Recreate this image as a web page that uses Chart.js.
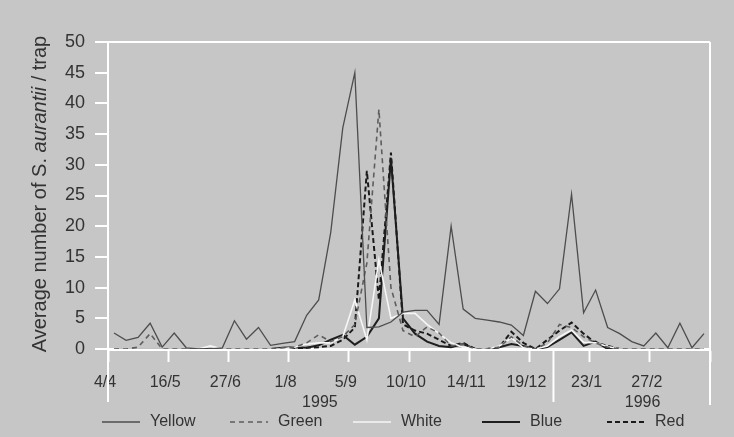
<!DOCTYPE html>
<html lang="en">
<head>
<meta charset="UTF-8">
<title>S. aurantii trap catches 1995-1996</title>
<style>
  html, body { margin: 0; padding: 0; background: #c6c6c6; }
  #wrap { width: 734px; height: 437px; }
</style>
<script src="https://cdn.jsdelivr.net/npm/chart.js"></script>
</head>
<body>
<div id="wrap"><canvas id="trapChart" width="734" height="437"></canvas></div>
<script>
// tick labels, one every 5 samples
const dateLabels = ['4/4', '16/5', '27/6', '1/8', '5/9', '10/10', '14/11', '19/12', '23/1', '27/2'];
const yTicks = [0, 5, 10, 15, 20, 25, 30, 35, 40, 45, 50];

// average catch per trap, one value per sampling date (50 dates)
const yellow = [2.6, 1.4, 1.9, 4.2, 0.3, 2.6, 0.2, 0, 0, 0.2,
                4.6, 1.6, 3.5, 0.6, 0.9, 1.2, 5.5, 8, 19, 36,
                45, 3.5, 3.6, 4.4, 6, 6.3, 6.3, 4, 20, 6.5,
                5, 4.7, 4.4, 3.9, 2.2, 9.4, 7.4, 9.8, 25.2, 5.9,
                9.6, 3.5, 2.5, 1.2, 0.5, 2.6, 0.2, 4.2, 0.2, 2.5];
const green  = [0, 0, 0.3, 2.5, 0, 0, 0, 0, 0, 0,
                0, 0, 0, 0, 0.2, 0.3, 1, 2.3, 1.2, 2,
                4, 14, 39, 10, 3, 2, 3.6, 2.6, 0.5, 0.8,
                0, 0, 0.3, 2, 0.5, 0, 1, 4, 3.5, 2,
                1, 0.3, 0, 0, 0, 0, 0, 0, 0, 0];
const white  = [0, 0, 0, 0, 0, 0, 0, 0, 0.5, 0,
                0, 0, 0, 0, 0, 0.3, 0.8, 1, 1, 2,
                8, 1.5, 14.5, 5, 5.8, 5.8, 4, 2.5, 1, 0.3,
                0, 0, 0.5, 1.8, 0.2, 0, 0.5, 2, 3.1, 1.1,
                1, 0.4, 0, 0, 0, 0, 0, 0, 0, 0];
const blue   = [0, 0, 0, 0, 0, 0, 0, 0, 0, 0,
                0, 0, 0, 0, 0.2, 0.3, 0.2, 0.6, 1.5, 2.3,
                0.7, 2, 5, 31, 5, 2.5, 1.2, 0.5, 0.3, 0.8,
                0, 0, 0.3, 0.8, 0.5, 0, 0.3, 1.5, 2.7, 0.5,
                1.2, 0, 0, 0, 0, 0, 0, 0, 0, 0];
const red    = [0, 0, 0, 0, 0, 0, 0, 0, 0, 0,
                0, 0, 0, 0, 0, 0, 0.2, 0.3, 0.5, 1.5,
                3.5, 29, 8, 32, 4, 3, 2.5, 1.5, 0.5, 1,
                0, 0, 0.3, 2.8, 1, 0, 1.5, 3, 4.3, 2.5,
                1, 0.5, 0, 0, 0, 0, 0, 0, 0, 0];

// each sample sits in the middle of its slot on the 0..50 axis
function toPoints(values) {
  return values.map((v, i) => ({ x: i + 0.5, y: v }));
}

const textColor = '#333333';
const fontFamily = '"Liberation Sans", Arial, sans-serif';

const frameLines = {
  id: 'frameLines',
  beforeDatasetsDraw(chart) {
    const x = chart.scales.x;
    const area = chart.chartArea;
    const ctx = chart.ctx;
    ctx.save();
    ctx.strokeStyle = '#ffffff';
    ctx.lineWidth = 2;
    ctx.beginPath();
    ctx.moveTo(x.getPixelForValue(0), area.top);
    ctx.lineTo(x.getPixelForValue(0), 402);
    ctx.moveTo(x.getPixelForValue(37), area.bottom);
    ctx.lineTo(x.getPixelForValue(37), 402);
    ctx.moveTo(x.getPixelForValue(50), area.top);
    ctx.lineTo(x.getPixelForValue(50), 405);
    ctx.stroke();
    // year labels
    ctx.fillStyle = textColor;
    ctx.font = '16px ' + fontFamily;
    ctx.textAlign = 'center';
    ctx.textBaseline = 'middle';
    ctx.fillText('1995', x.getPixelForValue(17.6), 403);
    ctx.fillText('1996', x.getPixelForValue(44.4), 403);
    ctx.restore();
  }
};

const yTitle = {
  id: 'yTitle',
  afterDraw(chart) {
    const ctx = chart.ctx;
    const parts = [
      ['Average number of S. ', 'normal'],
      ['aurantii', 'italic'],
      [' / trap', 'normal']
    ];
    ctx.save();
    let total = 0;
    parts.forEach(p => {
      ctx.font = p[1] + ' 20px ' + fontFamily;
      total += ctx.measureText(p[0]).width;
    });
    ctx.translate(40, 194);
    ctx.rotate(-Math.PI / 2);
    ctx.fillStyle = textColor;
    ctx.textBaseline = 'middle';
    ctx.textAlign = 'left';
    let pos = -total / 2;
    parts.forEach(p => {
      ctx.font = p[1] + ' 20px ' + fontFamily;
      ctx.fillText(p[0], pos, 0);
      pos += ctx.measureText(p[0]).width;
    });
    ctx.restore();
  }
};

const legendX = [102, 230, 353, 482, 607];
const bottomLegend = {
  id: 'bottomLegend',
  afterDraw(chart) {
    const ctx = chart.ctx;
    ctx.save();
    chart.data.datasets.forEach((ds, i) => {
      const x0 = legendX[i];
      const y = 422;
      ctx.strokeStyle = ds.borderColor;
      ctx.lineWidth = ds.borderWidth;
      ctx.setLineDash(ds.borderDash || []);
      ctx.beginPath();
      ctx.moveTo(x0, y);
      ctx.lineTo(x0 + 38, y);
      ctx.stroke();
      ctx.setLineDash([]);
      ctx.fillStyle = textColor;
      ctx.font = '16px ' + fontFamily;
      ctx.textBaseline = 'middle';
      ctx.fillText(ds.label, x0 + 48, y);
    });
    ctx.restore();
  }
};

new Chart(document.getElementById('trapChart'), {
  type: 'line',
  data: {
    datasets: [
      { label: 'Yellow', data: toPoints(yellow), borderColor: '#4d4d4d', borderWidth: 1.3 },
      { label: 'Green', data: toPoints(green), borderColor: '#5e5e5e', borderWidth: 1.6, borderDash: [5, 4] },
      { label: 'White', data: toPoints(white), borderColor: '#f6f6f6', borderWidth: 1.6 },
      { label: 'Blue', data: toPoints(blue), borderColor: '#1e1e1e', borderWidth: 2 },
      { label: 'Red', data: toPoints(red), borderColor: '#1a1a1a', borderWidth: 2, borderDash: [5, 3] }
    ]
  },
  options: {
    responsive: false,
    animation: false,
    layout: { padding: { top: 42, right: 24, left: 0, bottom: 0 } },
    elements: { point: { radius: 0 }, line: { tension: 0, fill: false } },
    plugins: { legend: { display: false }, tooltip: { enabled: false } },
    scales: {
      x: {
        type: 'linear',
        min: 0,
        max: 50,
        afterFit(scale) { scale.height = 88; },
        afterBuildTicks(scale) {
          scale.ticks = dateLabels.map((l, i) => ({ value: i * 5 })).concat([{ value: 50 }]);
        },
        ticks: {
          color: textColor,
          font: { family: fontFamily, size: 16 },
          padding: 11,
          labelOffset: -3,
          maxRotation: 0,
          callback: (v) => dateLabels[v / 5] || ''
        },
        grid: { drawOnChartArea: false, tickLength: 13, tickColor: '#ffffff', tickWidth: 2 },
        border: { color: '#ffffff', width: 3 }
      },
      y: {
        min: 0,
        max: 50,
        afterFit(scale) { scale.width = 108; },
        afterBuildTicks(scale) {
          scale.ticks = yTicks.map(v => ({ value: v }));
        },
        ticks: {
          color: textColor,
          font: { family: fontFamily, size: 18 },
          padding: 10
        },
        grid: {
          color: (c) => (c.tick && c.tick.value === 50 ? '#ffffff' : 'rgba(0,0,0,0)'),
          lineWidth: 2,
          tickLength: 13,
          tickColor: '#ffffff',
          tickWidth: 2
        },
        border: { color: '#ffffff', width: 2 }
      }
    }
  },
  plugins: [frameLines, yTitle, bottomLegend]
});
</script>
</body>
</html>
